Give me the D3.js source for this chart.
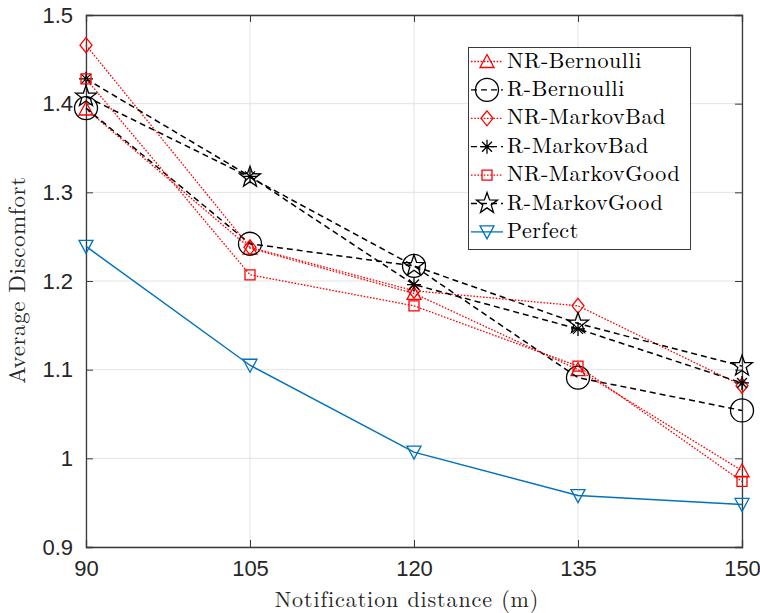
<!DOCTYPE html>
<html><head><meta charset="utf-8">
<script src="https://cdn.jsdelivr.net/npm/d3@7"></script>
<style>body{margin:0;background:#fff}</style>
</head><body><svg id="c" width="760" height="613"></svg>
<script>
const distances = [90, 105, 120, 135, 150];
const nrBernoulli = [1.394, 1.237, 1.186, 1.100, 0.986];
const rBernoulli = [1.395, 1.242, 1.217, 1.091, 1.054];
const nrMarkovBad = [1.466, 1.238, 1.189, 1.172, 1.082];
const rMarkovBad = [1.428, 1.318, 1.196, 1.146, 1.085];
const nrMarkovGood = [1.428, 1.207, 1.172, 1.104, 0.974];
const rMarkovGood = [1.408, 1.317, 1.217, 1.152, 1.104];
const perfect = [1.239, 1.105, 1.007, 0.958, 0.948];
const seriesNames = ["NR-Bernoulli","R-Bernoulli","NR-MarkovBad","R-MarkovBad","NR-MarkovGood","R-MarkovGood","Perfect"];
const yTicks = [0.9, 1.0, 1.1, 1.2, 1.3, 1.4, 1.5];
const xTicks = [90, 105, 120, 135, 150];

const series = [
  {name: seriesNames[0], values: nrBernoulli, color: "#ff0000", dash: "1.6,1.6", marker: "triUp"},
  {name: seriesNames[1], values: rBernoulli, color: "#000000", dash: "6,4", marker: "circle"},
  {name: seriesNames[2], values: nrMarkovBad, color: "#ff0000", dash: "1.6,1.6", marker: "diamond"},
  {name: seriesNames[3], values: rMarkovBad, color: "#000000", dash: "6,4", marker: "asterisk"},
  {name: seriesNames[4], values: nrMarkovGood, color: "#ff0000", dash: "1.6,1.6", marker: "square"},
  {name: seriesNames[5], values: rMarkovGood, color: "#000000", dash: "6,4", marker: "star"},
  {name: seriesNames[6], values: perfect, color: "#0072BD", dash: null, marker: "triDown"}
];

const SERIF = "'Latin Modern Roman','CMU Serif','Liberation Serif',serif";
const SANS = "'Liberation Sans',Arial,sans-serif";

const svg = d3.select("#c");
const L = 86, R = 742, T = 15, B = 547;
const x = d3.scaleLinear().domain([90,150]).range([L,R]);
const y = d3.scaleLinear().domain([0.9,1.5]).range([B,T]);

function markerPath(t){
  switch(t){
    case "triUp": return "M0,-7L7,6L-7,6Z";
    case "triDown": return "M0,7L7,-6L-7,-6Z";
    case "circle": { const r=11.5; return `M${r},0A${r},${r} 0 1,1 ${-r},0A${r},${r} 0 1,1 ${r},0Z`; }
    case "diamond": return "M0,-7.5L6,0L0,7.5L-6,0Z";
    case "square": return "M-5,-5L5,-5L5,5L-5,5Z";
    case "asterisk": { const r=7, d=5; return `M${-r},0L${r},0M0,${-r}L0,${r}M${-d},${-d}L${d},${d}M${-d},${d}L${d},${-d}`; }
    case "star": {
      const ro=11, ri=4.4; let p="";
      for(let i=0;i<10;i++){const a=-Math.PI/2+i*Math.PI/5; const rr=i%2?ri:ro; p+=(i?"L":"M")+(rr*Math.cos(a)).toFixed(2)+","+(rr*Math.sin(a)).toFixed(2);}
      return p+"Z";
    }
  }
}

// grid
const g = svg.append("g");
g.selectAll(".gx").data(xTicks).enter().append("line")
  .attr("x1",d=>x(d)).attr("x2",d=>x(d)).attr("y1",T).attr("y2",B)
  .attr("stroke","#e3e3e3").attr("stroke-width",1);
g.selectAll(".gy").data(yTicks).enter().append("line")
  .attr("x1",L).attr("x2",R).attr("y1",d=>y(d)).attr("y2",d=>y(d))
  .attr("stroke","#e3e3e3").attr("stroke-width",1);

// axes
const axCol = "#3a3a3a";
svg.append("g").attr("transform",`translate(0,${B})`)
  .call(d3.axisBottom(x).tickValues(xTicks).tickSize(-7).tickPadding(13).tickFormat(d3.format("d")));
svg.append("g").attr("transform",`translate(${L},0)`)
  .call(d3.axisLeft(y).tickValues(yTicks).tickSize(-7).tickPadding(13).tickFormat(d=>d===1?"1":d3.format(".1f")(d)));
svg.append("g").attr("transform",`translate(${R},0)`)
  .call(d3.axisRight(y).tickValues(yTicks).tickSize(-7).tickFormat(""));
svg.append("g").attr("transform",`translate(0,${T})`)
  .call(d3.axisTop(x).tickValues(xTicks).tickSize(-7).tickFormat(""));
svg.selectAll(".domain").attr("stroke",axCol).attr("stroke-width",1.3);
svg.selectAll(".tick line").attr("stroke",axCol).attr("stroke-width",1);
svg.selectAll(".tick text").attr("font-family",null).attr("font-size",null)
  .style("font-family",SANS).style("font-size","22px").attr("fill","#262626");

// lines
const line = d3.line().x((d,i)=>x(distances[i])).y(d=>y(d));
const plot = svg.append("g");
series.forEach(s=>{
  plot.append("path").attr("d",line(s.values)).attr("fill","none")
    .attr("stroke",s.color).attr("stroke-width",s.color==="#ff0000"?1.3:1.5)
    .attr("stroke-dasharray",s.dash);
  plot.selectAll(null).data(s.values).enter().append("path")
    .attr("d",markerPath(s.marker))
    .attr("transform",(d,i)=>`translate(${x(distances[i])},${y(d)})`)
    .attr("fill","none").attr("stroke",s.color).attr("stroke-width",1.3);
});

// axis labels
svg.append("text").attr("x",(L+R)/2-7).attr("y",607).attr("text-anchor","middle")
  .style("font-family",SERIF).style("font-size","22px").style("letter-spacing","0.9px")
  .attr("fill","#262626").text("Notification distance (m)");
svg.append("text").attr("transform","translate(25,280) rotate(-90)").attr("text-anchor","middle")
  .style("font-family",SERIF).style("font-size","23px").style("letter-spacing","0.6px")
  .attr("fill","#262626").text("Average Discomfort");

// legend
const lg = svg.append("g");
lg.append("rect").attr("x",468.5).attr("y",47.5).attr("width",222).attr("height",202)
  .attr("fill","#fff").attr("stroke","#3a3a3a").attr("stroke-width",1);
series.forEach((s,i)=>{
  const cy = 61.5 + i*28.4;
  lg.append("line").attr("x1",471).attr("x2",503).attr("y1",cy).attr("y2",cy)
    .attr("stroke",s.color).attr("stroke-width",1.3).attr("stroke-dasharray",s.dash);
  lg.append("path").attr("d",markerPath(s.marker)).attr("transform",`translate(487,${cy})`)
    .attr("fill","none").attr("stroke",s.color).attr("stroke-width",1.3);
  lg.append("text").attr("x",507).attr("y",cy+6)
    .style("font-family",SERIF).style("font-size","22px").style("letter-spacing","0.6px")
    .attr("fill","#000").text(s.name);
});
</script></body></html>
